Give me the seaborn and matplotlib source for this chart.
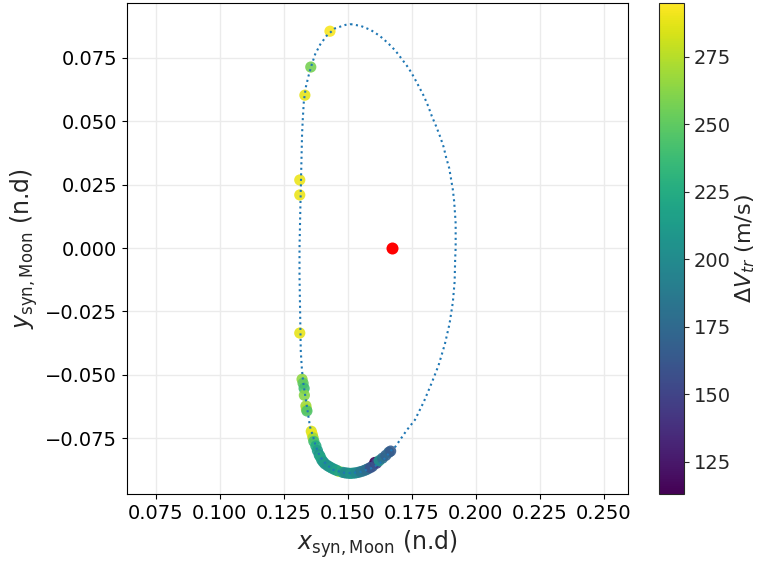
import numpy as np
import matplotlib
matplotlib.use("Agg")
import matplotlib.pyplot as plt
import seaborn as sns

# orbit (going clockwise from the top)
orbit_x = [0.1510, 0.1550, 0.1589, 0.1624, 0.1657, 0.1686, 0.1711, 0.1737, 0.1758, 0.1778,
           0.1797, 0.1814, 0.1828, 0.1845, 0.1861, 0.1874, 0.1884, 0.1896, 0.1903, 0.1910,
           0.1915, 0.1918, 0.1921, 0.1921, 0.1921, 0.1919, 0.1917, 0.1910, 0.1897, 0.1879,
           0.1854, 0.1828, 0.1797, 0.1762, 0.1729, 0.1686, 0.1664, 0.1651, 0.1625, 0.1593,
           0.1553, 0.1514, 0.1482, 0.1443, 0.1417, 0.1391, 0.1375, 0.1364, 0.1352, 0.1325,
           0.1320, 0.1316, 0.1311, 0.1311, 0.1315, 0.1321, 0.1324, 0.1328, 0.1336, 0.1346,
           0.1358, 0.1372, 0.1392, 0.1417, 0.1449, 0.1491, 0.1510]
orbit_y = [0.0882, 0.0875, 0.0859, 0.0836, 0.0807, 0.0777, 0.0744, 0.0709, 0.0673, 0.0635,
           0.0598, 0.0558, 0.0519, 0.0479, 0.0437, 0.0398, 0.0356, 0.0314, 0.0272, 0.0230,
           0.0185, 0.0143, 0.0097, 0.0054, 0.0003, -0.0047, -0.0133, -0.0214, -0.0299, -0.0378,
           -0.0463, -0.0530, -0.0605, -0.0677, -0.0719, -0.0782, -0.0802, -0.0822, -0.0848, -0.0867,
           -0.0881, -0.0887, -0.0885, -0.0874, -0.0854, -0.0822, -0.0782, -0.0743, -0.0704, -0.0526,
           -0.0472, -0.0408, -0.0110, 0.0000, 0.0189, 0.0449, 0.0511, 0.0579, 0.0635, 0.0677,
           0.0720, 0.0763, 0.0802, 0.0836, 0.0865, 0.0879, 0.0882]

# transfer points and their delta-V (m/s)
pts_x = [0.1430, 0.1355, 0.1332, 0.1312, 0.1312, 0.1312, 0.1321, 0.1325, 0.1329, 0.1330,
         0.1336, 0.1338, 0.1340, 0.1357, 0.1361, 0.1364, 0.1367, 0.1375, 0.1381, 0.1388,
         0.1398, 0.1410, 0.1428, 0.1447, 0.1465, 0.1480, 0.1500, 0.1520, 0.1540, 0.1560,
         0.1578, 0.1596, 0.1605, 0.1612, 0.1622, 0.1635, 0.1648, 0.1660, 0.1667, 0.1392,
         0.1404, 0.1420, 0.1437, 0.1456, 0.1490, 0.1510, 0.1530, 0.1550, 0.1570, 0.1588]
pts_y = [0.0854, 0.0713, 0.0602, 0.0268, 0.0209, -0.0335, -0.0517, -0.0533, -0.0553, -0.0580,
         -0.0622, -0.0635, -0.0642, -0.0722, -0.0735, -0.0748, -0.0762, -0.0780, -0.0798, -0.0815,
         -0.0835, -0.0850, -0.0862, -0.0872, -0.0880, -0.0884, -0.0887, -0.0887, -0.0884, -0.0878,
         -0.0870, -0.0860, -0.0845, -0.0848, -0.0838, -0.0828, -0.0817, -0.0805, -0.0800, -0.0822,
         -0.0843, -0.0857, -0.0867, -0.0876, -0.0886, -0.0888, -0.0886, -0.0881, -0.0874, -0.0865]
pts_dv = [293, 258, 288, 290, 290, 288, 265, 250, 240, 262,
          270, 272, 245, 285, 290, 270, 240, 225, 215, 205,
          210, 200, 215, 205, 270, 210, 205, 215, 200, 190,
          185, 170, 113, 150, 205, 180, 170, 175, 165, 220,
          212, 205, 210, 215, 200, 208, 198, 185, 178, 160]

moon_x = [0.1672]
moon_y = [0.0]

vmin, vmax = 113, 295

sns.set_style("ticks")
plt.rcParams["font.family"] = ["DejaVu Sans"]

fig = plt.figure(figsize=(7.59, 5.63), dpi=100)
ax = fig.add_axes([0.1673, 0.1226, 0.660, 0.872])
cax = fig.add_axes([0.868, 0.1226, 0.033, 0.872])

ax.grid(True, color="0.92", linewidth=1)
ax.set_axisbelow(True)

sns.scatterplot(x=pts_x, y=pts_y, hue=pts_dv, palette="viridis", hue_norm=(vmin, vmax),
                s=65, linewidth=0, alpha=0.9, legend=False, ax=ax, zorder=2)
sns.lineplot(x=orbit_x, y=orbit_y, sort=False, estimator=None, color="#1f77b4",
             linestyle=":", linewidth=1.5, ax=ax, zorder=3)
sns.scatterplot(x=moon_x, y=moon_y, color="red", s=75, linewidth=0, ax=ax, zorder=4)

fmt = matplotlib.ticker.FuncFormatter(lambda v, p: ("%.3f" % v).replace("-", "\u2212"))
ax.set_xlim(0.0637, 0.2594)
ax.set_ylim(-0.0969, 0.0965)
ax.set_xticks(np.arange(0.075, 0.2501, 0.025))
ax.set_yticks(np.arange(-0.075, 0.0751, 0.025))
ax.xaxis.set_major_formatter(fmt)
ax.yaxis.set_major_formatter(fmt)
ax.tick_params(labelsize=14, colors="black")
ax.set_xlabel(r"$x_{\rm syn, Moon}$ (n.d)", fontsize=17)
ax.set_ylabel(r"$y_{\rm syn, Moon}$ (n.d)", fontsize=17)
for sp in ax.spines.values():
    sp.set_color("black")

sm = plt.cm.ScalarMappable(norm=plt.Normalize(vmin, vmax), cmap="viridis")
cb = fig.colorbar(sm, cax=cax)
cb.set_ticks([125, 150, 175, 200, 225, 250, 275])
cb.ax.tick_params(labelsize=14)
cb.set_label(r"$\Delta V_{tr}$ (m/s)", fontsize=16, labelpad=2)

fig.savefig("out.png", dpi=100)
